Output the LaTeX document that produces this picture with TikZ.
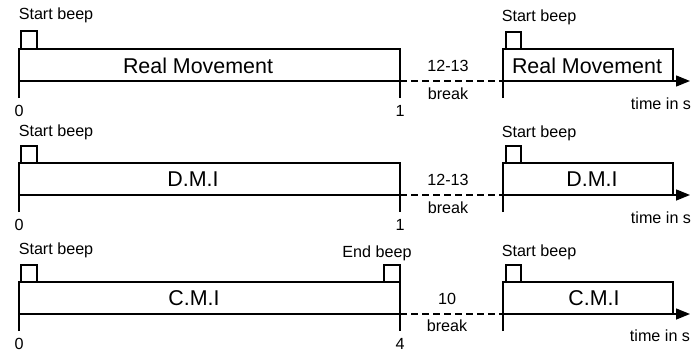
\documentclass[tikz,border=0pt]{standalone}
\usepackage{fontspec}
\setmainfont{Liberation Sans}
\usetikzlibrary{arrows.meta}

\begin{document}
\begin{tikzpicture}[x=1bp,y=-1bp,
    line/.style={line width=1.4bp},
    gap/.style={line width=1.4bp, dash pattern=on 7bp off 4bp},
    axis/.style={line width=1.4bp, -{Triangle[length=14bp,width=11bp]}},
    lbl/.style={font=\fontsize{16.2}{18}\selectfont, inner sep=0pt},
    task/.style={font=\fontsize{21.5}{24}\selectfont, inner sep=0pt}]
    \useasboundingbox (0,0) rectangle (697,353);
    % Real Movement
    \coordinate (a0) at (19,81);  \coordinate (a1) at (400,81);
    \coordinate (b0) at (503,81); \coordinate (b1) at (690,81);
    \draw[line] (19,98) -- (19,49) -- (400,49) -- (400,98);
    \draw[line] (a0) -- (a1);
    \draw[gap] (a1) -- (b0);
    \draw[line] (503,98) -- (503,49) -- (673,49) -- (673,81);
    \draw[axis] (b0) -- (b1);
    \draw[line] (21,49) -- (21,31) -- (37,31) -- (37,49);     % beep
    \draw[line] (506,49) -- (506,32) -- (521,32) -- (521,49);
    \node[lbl] (sbA) at (56,15) {Start beep};
    \node[lbl] (sbB) at (539,17) {Start beep};
    \node[task] (rmA) at (198,66) {Real Movement};
    \node[task] (rmB) at (587,66) {Real Movement};
    \node[lbl] (zA) at (19,111) {0};
    \node[lbl] (oA) at (400,111) {1};
    \node[lbl] (brA) at (448,66) {12-13};
    \node[lbl] (bkA) at (448,94) {break};
    \node[lbl] (tA) at (661,104) {time in s};
    % D.M.I
    \coordinate (c0) at (19,195);  \coordinate (c1) at (400,195);
    \coordinate (d0) at (503,195); \coordinate (d1) at (690,195);
    \draw[line] (19,212) -- (19,163) -- (400,163) -- (400,212);
    \draw[line] (c0) -- (c1);
    \draw[gap] (c1) -- (d0);
    \draw[line] (503,212) -- (503,163) -- (673,163) -- (673,195);
    \draw[axis] (d0) -- (d1);
    \draw[line] (21,163) -- (21,146) -- (37,146) -- (37,163);
    \draw[line] (506,163) -- (506,146) -- (521,146) -- (521,163);
    \node[lbl] (sbC) at (56,132) {Start beep};
    \node[lbl] (sbD) at (539,133) {Start beep};
    \node[task] (dmA) at (193,179) {D.M.I};
    \node[task] (dmB) at (592,179) {D.M.I};
    \node[lbl] (zB) at (19,225) {0};
    \node[lbl] (oB) at (400,225) {1};
    \node[lbl] (brB) at (448,180) {12-13};
    \node[lbl] (bkB) at (448,208) {break};
    \node[lbl] (tB) at (661,218) {time in s};
    % C.M.I
    \coordinate (e0) at (19,314);  \coordinate (e1) at (400,314);
    \coordinate (f0) at (503,314); \coordinate (f1) at (690,314);
    \draw[line] (19,331) -- (19,282) -- (400,282) -- (400,331);
    \draw[line] (e0) -- (e1);
    \draw[gap] (e1) -- (f0);
    \draw[line] (503,331) -- (503,282) -- (673,282) -- (673,314);
    \draw[axis] (f0) -- (f1);
    \draw[line] (21,282) -- (21,265) -- (37,265) -- (37,282);
    \draw[line] (384,282) -- (384,265) -- (400,265) -- (400,282); % end beep
    \draw[line] (506,282) -- (506,265) -- (521,265) -- (521,282);
    \node[lbl] (sbE) at (56,250) {Start beep};
    \node[lbl] (ebE) at (377,253) {End beep};
    \node[lbl] (sbF) at (539,252) {Start beep};
    \node[task] (cmA) at (194,298) {C.M.I};
    \node[task] (cmB) at (594,298) {C.M.I};
    \node[lbl] (zC) at (19,344) {0};
    \node[lbl] (oC) at (400,344) {4};
    \node[lbl] (brC) at (447,299) {10};
    \node[lbl] (bkC) at (447,326) {break};
    \node[lbl] (tC) at (660,336) {time in s};
\end{tikzpicture}
\end{document}
